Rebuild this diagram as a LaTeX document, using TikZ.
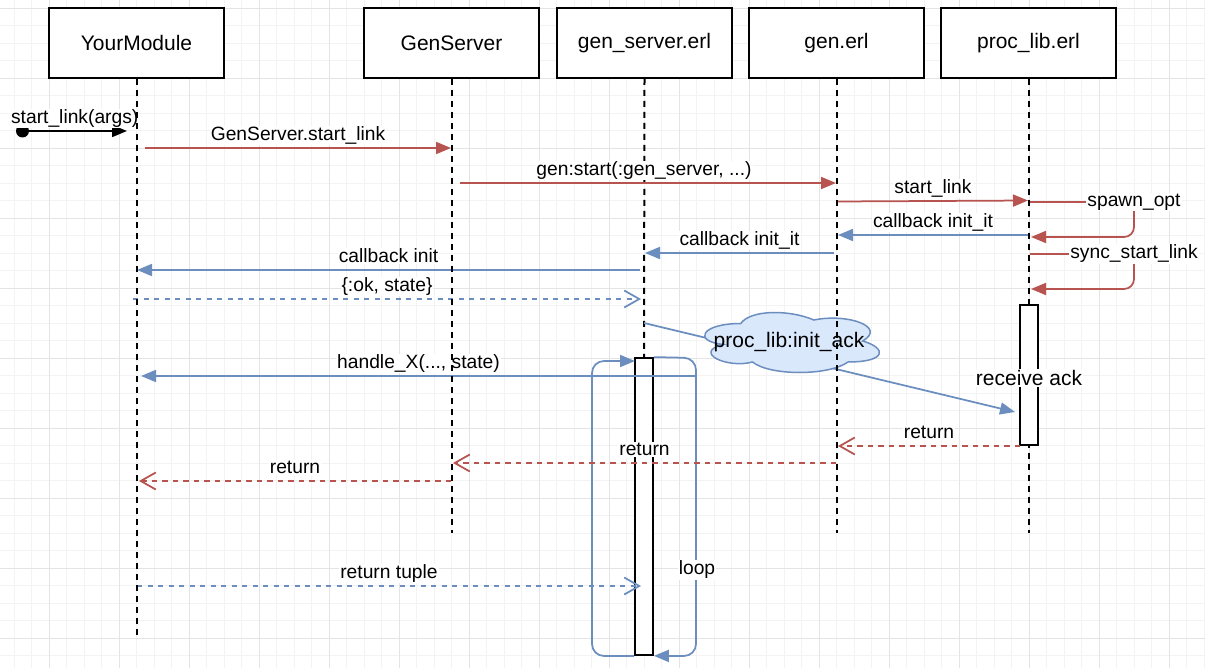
\documentclass[tikz,border=0pt]{standalone}
\usepackage{fontspec}
\setmainfont{Liberation Sans}
\usetikzlibrary{arrows.meta}
\definecolor{redc}{HTML}{B85450}
\definecolor{bluec}{HTML}{6C8EBF}
\definecolor{cloudfill}{HTML}{DAE8FC}
\definecolor{gridminor}{HTML}{F3F3F3}
\definecolor{gridmajor}{HTML}{E4E4E4}
\begin{document}
\begin{tikzpicture}[x=1pt,y=-1pt,
  box/.style={draw=black, fill=white, line width=1.75pt, minimum width=175pt, minimum height=70pt, inner sep=0pt, font=\fontsize{21}{24}\selectfont},
  life/.style={line width=2pt, dash pattern=on 6pt off 5pt},
  actbar/.style={draw=black, fill=white, line width=1.75pt, minimum width=18pt, inner sep=0pt},
  lbl/.style={font=\fontsize{19.25}{22}\selectfont, text=black, fill=white, inner sep=1pt, anchor=base, yshift=7.5pt},
  sidelbl/.style={font=\fontsize{19.25}{22}\selectfont, text=black, fill=white, inner sep=1pt},
  call/.style={line width=1.75pt, -{Triangle[length=15pt,width=12pt]}},
  ret/.style={line width=1.75pt, dash pattern=on 5.25pt off 5.25pt, -{Straight Barb[length=15pt,width=17pt]}},
]
\useasboundingbox (0,0) rectangle (1205,668);
\fill[white] (0,0) rectangle (1205,668);
% grid
\foreach \i in {0,...,70} \draw[gridminor, line width=0.8pt] (-3.2+17.5*\i,0) -- (-3.2+17.5*\i,668);
\foreach \i in {0,...,39} \draw[gridminor, line width=0.8pt] (0,-9.2+17.5*\i) -- (1205,-9.2+17.5*\i);
\foreach \i in {0,...,18} \draw[gridmajor, line width=1pt] (-20.7+70*\i,0) -- (-20.7+70*\i,668);
\foreach \i in {0,...,9} \draw[gridmajor, line width=1pt] (0,8.3+70*\i) -- (1205,8.3+70*\i);

% participants
\node[box] (ym) at (136.5,43) {YourModule};
\node[box] (gs) at (451.5,43) {GenServer};
\node[box] (gse) at (644.5,43) {gen\_server.erl};
\node[box] (gen) at (836.5,43) {gen.erl};
\node[box] (pl) at (1028.5,43) {proc\_lib.erl};

% lifeline ends
\coordinate (ymEnd) at (136.5,638);
\coordinate (gsEnd) at (451.5,533);
\coordinate (genEnd) at (836.5,533);
\coordinate (plEnd) at (1028.5,533);

% gen_server lifeline and bar
\node[actbar, minimum height=297pt] (bar1) at (644,506.5) {};
\draw[life] (gse.south) -- (bar1.north);
\draw[life] (pl.south) -- (plEnd);
\node[actbar, minimum height=140pt] (bar2) at (1029,375) {};

% message endpoints
\coordinate (m1s) at (22.5,131);  \coordinate (m1e) at (127,131);
\coordinate (m2s) at (145,148);   \coordinate (m2e) at (451,148);
\coordinate (m3s) at (460,183);   \coordinate (m3e) at (836,183);
\coordinate (m4s) at (838,201.5); \coordinate (m4e) at (1028,200.5);
\coordinate (m6s) at (1028,235);  \coordinate (m6e) at (838,235);
\coordinate (m7s) at (834,253);   \coordinate (m7e) at (645,253);
\coordinate (m9s) at (640,270);   \coordinate (m9e) at (137,270);
\coordinate (m10s) at (133,299);  \coordinate (m10e) at (641,299);
\coordinate (m11s) at (696,376);  \coordinate (m11e) at (141,376);
\coordinate (m12s) at (1020,446); \coordinate (m12e) at (838,446);
\coordinate (m13s) at (836,463);  \coordinate (m13e) at (453,463);
\coordinate (m14s) at (451,481);  \coordinate (m14e) at (139,481);
\coordinate (m15s) at (137,586);  \coordinate (m15e) at (641,586);
\coordinate (spS) at (1030,202);  \coordinate (spC) at (1134,202);
\coordinate (spD) at (1134,237);  \coordinate (spE) at (1031,237);
\coordinate (ssS) at (1030,254);  \coordinate (ssC) at (1134,254);
\coordinate (ssD) at (1134,289);  \coordinate (ssE) at (1031,289);
\coordinate (ackS) at (644,323);  \coordinate (ackE) at (1015,412);
\coordinate (loopTR) at (696,358); \coordinate (loopBR) at (696,656);
\coordinate (loopBL) at (592,656); \coordinate (loopTL) at (592,361);
\coordinate (loopIn) at (635,361);

% loop
\draw[bluec, line width=1.75pt, rounded corners=12pt, -{Triangle[length=15pt,width=12pt]}] (bar1.north east) -- (loopTR) -- (loopBR) -- (bar1.south east);
\draw[bluec, line width=1.75pt, rounded corners=12pt, -{Triangle[length=15pt,width=12pt]}] (bar1.south west) -- (loopBL) -- (loopTL) -- (loopIn);

% start dot
\node[circle, fill=black, inner sep=0pt, minimum size=13pt] (startdot) at (22.5,131) {};

% messages
\draw[call, black] (m1s) -- (m1e) node[lbl, midway] {start\_link(args)};
\draw[call, redc] (m2s) -- (m2e) node[lbl, midway] {GenServer.start\_link};
\draw[call, redc] (m3s) -- (m3e) node[lbl, midway, xshift=-4pt] {gen:start(:gen\_server, ...)};
\draw[call, redc] (m4s) -- (m4e) node[lbl, midway] {start\_link};
\draw[redc, line width=1.75pt, rounded corners=10pt, -{Triangle[length=15pt,width=12pt]}] (spS) -- (spC) -- (spD) -- (spE);
\node[sidelbl] (splbl) at (spC) {spawn\_opt};
\draw[call, bluec] (m6s) -- (m6e) node[lbl, midway] {callback init\_it};
\draw[call, bluec] (m7s) -- (m7e) node[lbl, midway] {callback init\_it};
\draw[redc, line width=1.75pt, rounded corners=10pt, -{Triangle[length=15pt,width=12pt]}] (ssS) -- (ssC) -- (ssD) -- (ssE);
\node[sidelbl] (sslbl) at (ssC) {sync\_start\_link};
\draw[call, bluec] (m9s) -- (m9e) node[lbl, midway] {callback init};
\draw[ret, bluec] (m10s) -- (m10e) node[lbl, midway] {\{:ok, state\}};
\draw[call, bluec] (m11s) -- (m11e) node[lbl, midway] {handle\_X(..., state)};
\draw[ret, redc] (m12s) -- (m12e) node[lbl, midway] {return};
\draw[ret, redc] (m13s) -- (m13e) node[lbl, midway] {return};
\draw[ret, redc] (m14s) -- (m14e) node[lbl, midway] {return};
\draw[ret, bluec] (m15s) -- (m15e) node[lbl, midway] {return tuple};

% init_ack
\draw[call, bluec] (ackS) -- (ackE);
\begin{scope}[shift={(692,306)}, x=195pt, y=-70pt]
\filldraw[draw=bluec, fill=cloudfill, line width=1.5pt]
  (0.25,0.25) .. controls (0.05,0.25) and (0,0.5) .. (0.16,0.55)
  .. controls (0,0.66) and (0.18,0.9) .. (0.31,0.8)
  .. controls (0.4,1) and (0.7,1) .. (0.8,0.8)
  .. controls (1,0.8) and (1,0.6) .. (0.875,0.5)
  .. controls (1,0.3) and (0.8,0.1) .. (0.625,0.2)
  .. controls (0.5,0.05) and (0.3,0.05) .. (0.25,0.25) -- cycle;
\end{scope}
\node[font=\fontsize{21}{24}\selectfont, inner sep=0pt] (acktxt) at (789,342) {proc\_lib:init\_ack};

\node[font=\fontsize{21}{24}\selectfont, fill=white, inner sep=1pt] (recv) at (1029,378) {receive ack};
\node[sidelbl] (looplbl) at (697,570) {loop};

% remaining lifelines on top
\draw[life] (ym.south) -- (ymEnd);
\draw[life] (gs.south) -- (gsEnd);
\draw[life] (gen.south) -- (genEnd);
\end{tikzpicture}
\end{document}
